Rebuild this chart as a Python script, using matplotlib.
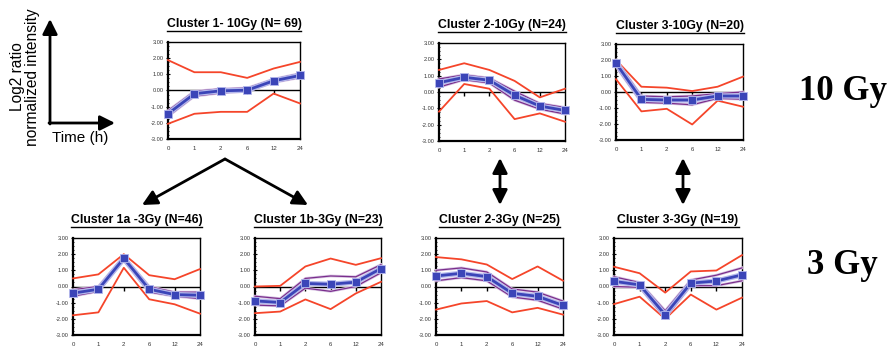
import matplotlib
matplotlib.use("Agg")
import matplotlib.pyplot as plt
from matplotlib.lines import Line2D
from matplotlib.patches import FancyArrowPatch
import numpy as np

# ---------------- data ----------------
time_labels = ["0", "1", "2", "6", "12", "24"]
y_ticks = [-3, -2, -1, 0, 1, 2, 3]

titles = ["Cluster 1- 10Gy (N= 69)", "Cluster 2-10Gy (N=24)", "Cluster 3-10Gy (N=20)",
          "Cluster 1a -3Gy (N=46)", "Cluster 1b-3Gy (N=23)", "Cluster 2-3Gy (N=25)",
          "Cluster 3-3Gy (N=19)"]

red_upper = [
    [1.88, 1.13, 1.13, 0.78, 1.36, 1.77],
    [1.35, 1.76, 1.35, 0.68, -0.33, 0.20],
    [2.00, 0.33, 0.27, 0.06, 0.33, 0.96],
    [0.50, 0.75, 2.00, 0.70, 0.45, 1.08],
    [0.00, 0.04, 1.24, 1.73, 1.34, 1.75],
    [1.82, 1.68, 1.36, 0.46, 1.24, 0.36],
    [1.22, 0.82, -0.38, 0.93, 0.99, 1.94],
]
red_lower = [
    [-2.06, -1.44, -1.32, -1.32, -0.19, -0.80],
    [-1.20, 0.49, 0.20, -1.66, -1.31, -1.82],
    [0.80, -1.21, -1.05, -2.03, -0.54, -0.92],
    [-1.78, -1.60, 1.16, -0.79, -1.10, -1.68],
    [-1.65, -1.55, -0.80, -1.40, -0.43, 0.29],
    [-1.43, -1.05, -0.90, -1.60, -1.32, -1.74],
    [-1.09, -0.63, -2.00, -0.50, -1.43, -0.69],
]
mean_vals = [
    [-1.44, -0.20, -0.02, 0.02, 0.60, 0.93],
    [0.57, 0.90, 0.72, -0.20, -0.86, -1.13],
    [1.80, -0.46, -0.50, -0.50, -0.25, -0.25],
    [-0.41, -0.17, 1.74, -0.17, -0.50, -0.54],
    [-0.89, -0.99, 0.19, 0.14, 0.27, 1.11],
    [0.65, 0.82, 0.61, -0.42, -0.61, -1.17],
    [0.32, 0.10, -1.75, 0.21, 0.34, 0.72],
]
purple_upper = [
    [-1.25, -0.05, 0.10, 0.15, 0.70, 1.05],
    [0.80, 1.05, 0.85, 0.05, -0.70, -0.95],
    [2.00, -0.25, -0.30, -0.25, -0.10, 0.00],
    [-0.20, 0.00, 1.85, 0.00, -0.35, -0.35],
    [-0.60, -0.75, 0.50, 0.65, 0.60, 1.35],
    [1.00, 1.15, 0.90, -0.15, -0.35, -0.90],
    [0.60, 0.25, -1.50, 0.40, 0.70, 1.15],
]
purple_lower = [
    [-1.60, -0.35, -0.15, -0.05, 0.50, 0.80],
    [0.30, 0.75, 0.55, -0.50, -1.05, -1.35],
    [1.60, -0.65, -0.70, -0.80, -0.40, -0.45],
    [-0.60, -0.30, 1.60, -0.35, -0.60, -0.75],
    [-1.15, -1.20, -0.10, -0.30, 0.00, 0.85],
    [0.35, 0.55, 0.35, -0.65, -0.85, -1.40],
    [0.00, -0.05, -1.95, 0.05, 0.05, 0.35],
]

# ---------------- layout (pixels) ----------------
W, H = 891, 348
boxes = [  # left, right, top, bottom in pixels
    (168, 300, 42, 139),
    (439, 565, 43, 141),
    (616, 743, 44, 140),
    (73, 200, 238, 335),
    (255, 381, 238, 335),
    (436, 563, 238, 335),
    (614, 742, 238, 335),
]

RED = "#F5452A"
PURPLE = "#7A2E8C"
PURPLE_HALO = "#D9C6E4"
BLUE = "#3B45B8"
BLUE_HALO = "#B4B8EC"

plt.rcParams['font.family'] = ['Liberation Sans', 'DejaVu Sans']

fig = plt.figure(figsize=(W / 100, H / 100), dpi=100)
fig.patch.set_facecolor("white")

def px_ax(l, r, t, b):
    return [l / W, 1 - b / H, (r - l) / W, (b - t) / H]

x = np.arange(len(time_labels))
title_texts = []
for i, (l, r, t, b) in enumerate(boxes):
    ax = fig.add_axes(px_ax(l, r, t, b))
    ax.set_xlim(0, len(time_labels) - 1)
    ax.set_ylim(-3, 3)
    ax.axhline(0, color="black", lw=1.0, zorder=2)
    ax.plot(x[1:-1], np.zeros(len(x) - 2), linestyle="none", marker=3,
            markersize=3, color="black", zorder=2)
    # red envelope
    ax.plot(x, red_upper[i], color=RED, lw=1.3, zorder=3, clip_on=False)
    ax.plot(x, red_lower[i], color=RED, lw=1.3, zorder=3, clip_on=False)
    # purple band lines
    for arr in (purple_upper[i], purple_lower[i]):
        ax.plot(x, arr, color=PURPLE_HALO, lw=2.0, zorder=4, clip_on=False)
        ax.plot(x, arr, color=PURPLE, lw=0.9, zorder=5, clip_on=False)
    # mean
    ax.plot(x, mean_vals[i], color=BLUE_HALO, lw=3.8, zorder=6, clip_on=False)
    ax.plot(x, mean_vals[i], color=BLUE, lw=2.0, marker="s", markersize=5.2,
            markerfacecolor=BLUE, markeredgecolor=BLUE_HALO, markeredgewidth=0.6,
            zorder=7, clip_on=False)

    ax.set_xticks(x)
    ax.set_xticklabels(time_labels, fontsize=4.3, color="#333333")
    ax.tick_params(axis="x", length=0, pad=5)
    ax.set_yticks(y_ticks)
    ax.set_yticklabels([f"{v:.2f}" for v in y_ticks], fontsize=4.1, color="#333333")
    ax.set_yticks(np.arange(-3, 3.01, 0.25), minor=True)
    ax.tick_params(axis="y", which="major", length=2.5, width=0.8, direction="inout", pad=2)
    ax.tick_params(axis="y", which="minor", length=1.5, width=0.6, direction="inout")
    for s in ("left", "bottom"):
        ax.spines[s].set_linewidth(1.6)
    for s in ("top", "right"):
        ax.spines[s].set_linewidth(1.0)
    for s in ax.spines.values():
        s.set_color("black")

    cx = (l + r) / 2 / W
    ty = 1 - (t - 18) / H
    tt = fig.text(cx, ty, titles[i], ha="center", va="center", fontsize=8.8,
                  fontweight="bold", color="black")
    title_texts.append(tt)

# underline titles
fig.canvas.draw()
renderer = fig.canvas.get_renderer()
for tt in title_texts:
    bb = tt.get_window_extent(renderer=renderer).transformed(fig.transFigure.inverted())
    yline = bb.y0 - 0.5 / H
    fig.add_artist(Line2D([bb.x0, bb.x1], [yline, yline], transform=fig.transFigure,
                          color="black", lw=1.0))

def fx(px):
    return px / W

def fy(py):
    return 1 - py / H

arrow_kw = dict(arrowstyle="-|>,head_length=0.9,head_width=0.45", color="black",
                lw=2.0, shrinkA=0, shrinkB=0, mutation_scale=10)
dbl_kw = dict(arrowstyle="<|-|>,head_length=0.9,head_width=0.45", color="black",
              lw=2.0, shrinkA=0, shrinkB=0, mutation_scale=10)

# schematic axes
fig.add_artist(FancyArrowPatch((fx(50), fy(124)), (fx(50), fy(19)),
               transform=fig.transFigure, **arrow_kw))
fig.add_artist(FancyArrowPatch((fx(49), fy(123)), (fx(115), fy(123)),
               transform=fig.transFigure, **arrow_kw))
fig.text(fx(25), fy(77), "Log2 ratio\nnormalized intensity", rotation=90,
         ha="center", va="center", fontsize=11.2, linespacing=1.0)
fig.text(fx(80), fy(138), "Time (h)", ha="center", va="center", fontsize=11)

# branching arrows from cluster 1
fig.add_artist(FancyArrowPatch((fx(225), fy(159)), (fx(142), fy(205)),
               transform=fig.transFigure, **arrow_kw))
fig.add_artist(FancyArrowPatch((fx(225), fy(159)), (fx(308), fy(205)),
               transform=fig.transFigure, **arrow_kw))
# double arrows
for xp in (500, 683):
    fig.add_artist(FancyArrowPatch((fx(xp), fy(158)), (fx(xp), fy(205)),
                   transform=fig.transFigure, **dbl_kw))

# dose labels
fig.text(fx(843), fy(92), "10 Gy", ha="center", va="center", fontsize=25,
         fontweight="bold", family=["Liberation Serif", "DejaVu Serif"])
fig.text(fx(842), fy(265), "3 Gy", ha="center", va="center", fontsize=25,
         fontweight="bold", family=["Liberation Serif", "DejaVu Serif"])

fig.savefig("out.png", dpi=100, facecolor="white")
